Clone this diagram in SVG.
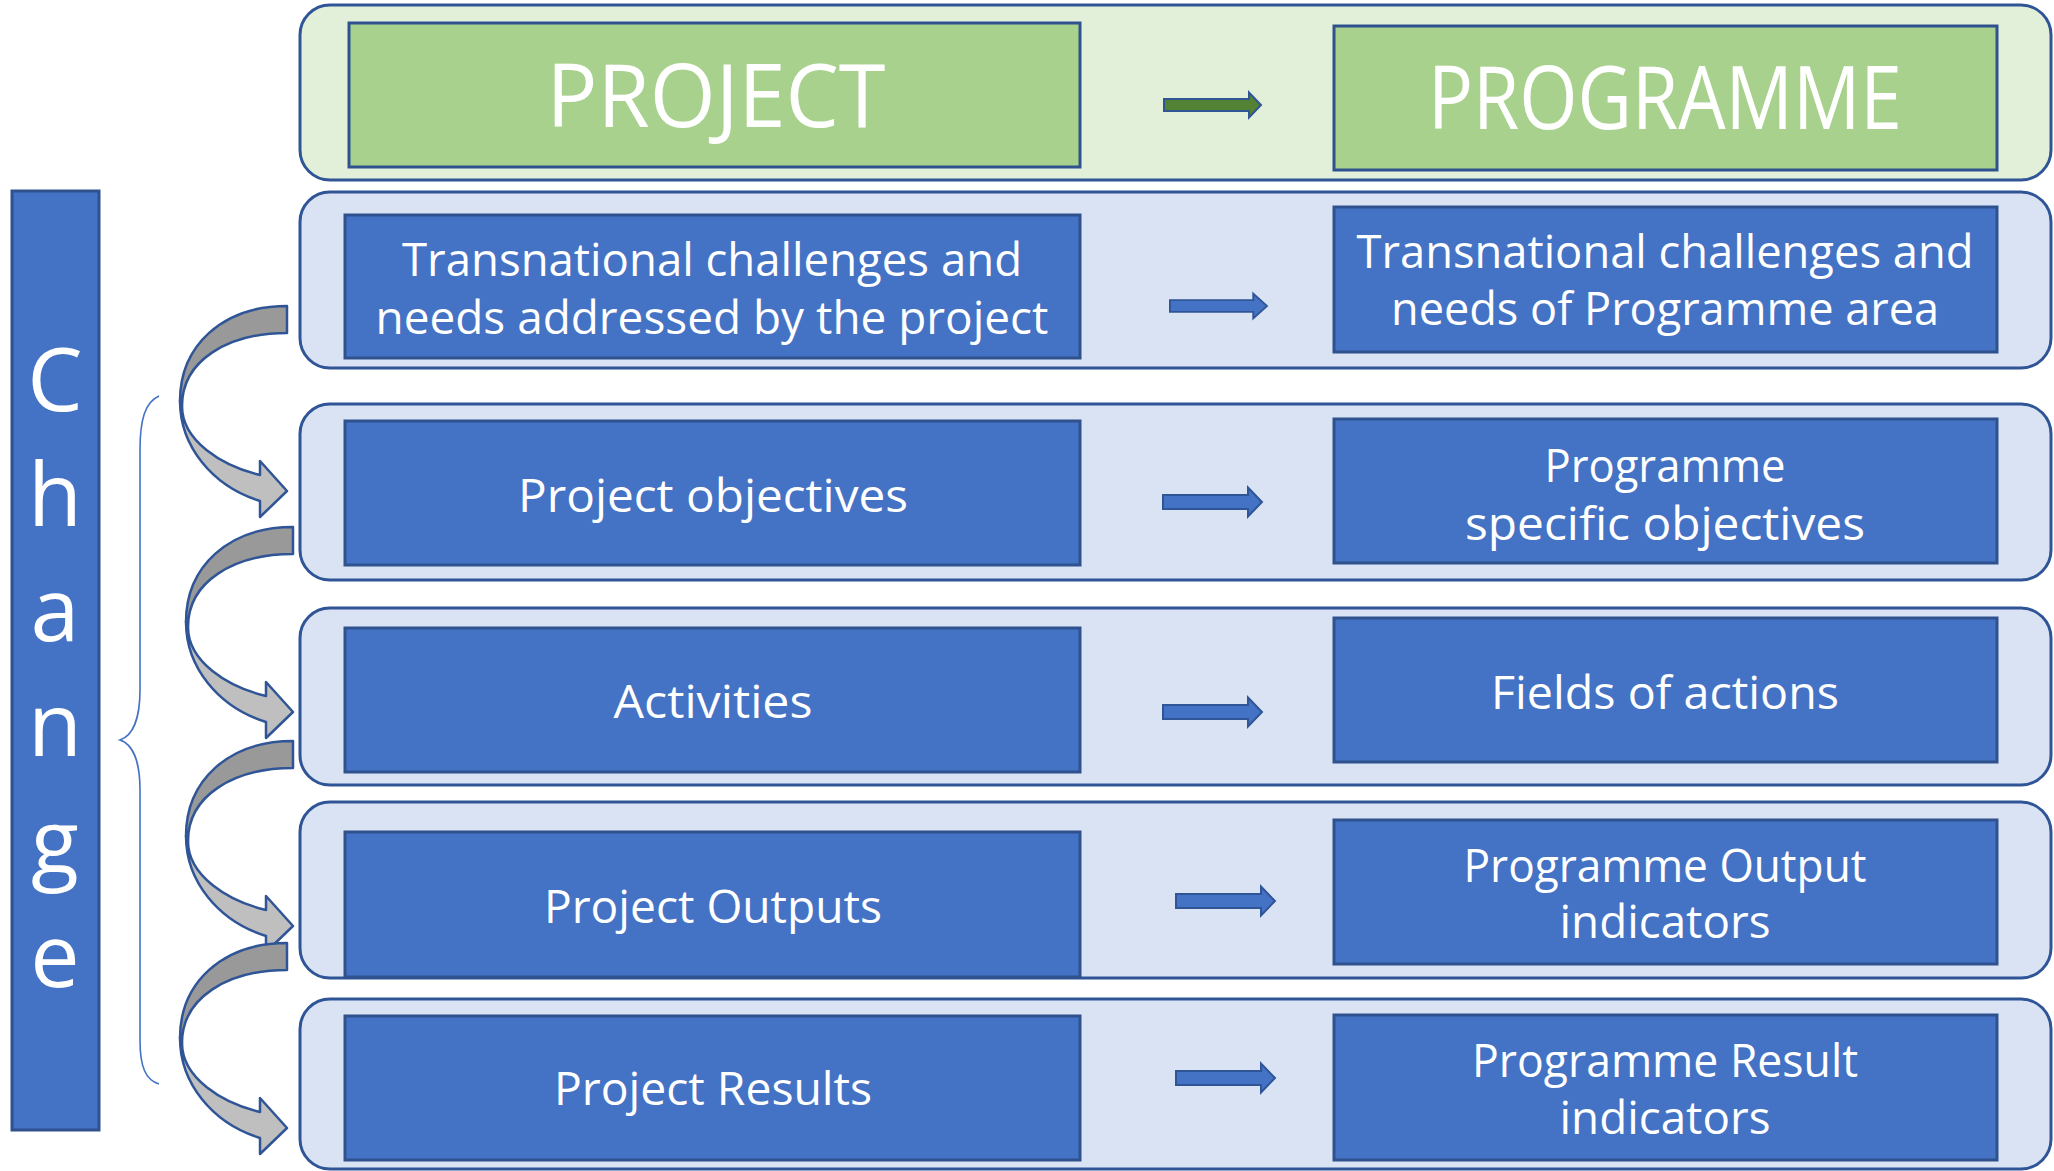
<svg xmlns="http://www.w3.org/2000/svg" xmlns:xlink="http://www.w3.org/1999/xlink" width="2054" height="1171" viewBox="0 0 2054 1171">
<style>
.cont{fill:#DAE3F3;stroke:#2F5597;stroke-width:3}
.contg{fill:#E2F0D9;stroke:#2F5597;stroke-width:3}
.box{fill:#4472C4;stroke:#2F528F;stroke-width:3}
.gbox{fill:#A9D18E;stroke:#2F528F;stroke-width:3}
.t{font-family:"Open Sans","Noto Sans",sans-serif;fill:#FFFFFF;font-size:46px;text-anchor:middle}
.big{font-size:88px}
.arr{fill:#4472C4;stroke:#2F5597;stroke-width:2}
.garr{fill:#548235;stroke:#2F5597;stroke-width:2}
.dk{fill:#999999;stroke:#2F5597;stroke-width:2.5;stroke-linejoin:round}
.lt{fill:#BFBFBF;stroke:#2F5597;stroke-width:2.5;stroke-linejoin:round}
.brace{fill:none;stroke:#4472C4;stroke-width:1.6}
</style>
<defs>
<path id="barrow" d="M0,-7 H85 V-14.5 L99,0 L85,14.5 V7 H0 Z"/>
<path id="garrow" d="M0,-6 H85 V-12.5 L97,0 L85,12.5 V6 H0 Z"/>
<g id="carrow">
<path class="dk" d="M0,0 C-65,0 -107,40 -107,95 L-105,100 C-105,55 -60,27 0,27 Z"/>
<path class="lt" d="M-107,95 C-107,140 -75,180 -27,195 L-27,211 L0,185 L-27,155 L-27,169 C-65,160 -105,135 -105,100 Z"/>
</g>
</defs>

<g id="containers">
<rect id="row0" class="contg" x="300" y="5" width="1751" height="175" rx="30"/>
<rect id="row1" class="cont" x="300" y="192" width="1751" height="176" rx="30"/>
<rect id="row2" class="cont" x="300" y="404" width="1751" height="176" rx="30"/>
<rect id="row3" class="cont" x="300" y="608" width="1751" height="177" rx="30"/>
<rect id="row4" class="cont" x="300" y="802" width="1751" height="176" rx="30"/>
<rect id="row5" class="cont" x="300" y="999" width="1751" height="170" rx="30"/>
</g>

<g id="change">
<rect class="box" x="12" y="191" width="87" height="939"/>
<text class="t big"><tspan x="55" y="411">C</tspan><tspan x="55" y="526">h</tspan><tspan x="55" y="641">a</tspan><tspan x="55" y="756">n</tspan><tspan x="55" y="873">g</tspan><tspan x="55" y="987">e</tspan></text>
</g>

<g id="brace">
<path class="brace" d="M159,396 C145,402 140,420 140,450 L140,690 C140,720 132,736 120,740 C132,744 140,760 140,790 L140,1040 C140,1068 146,1080 159,1084"/>
</g>

<g id="project">
<rect class="gbox" x="349" y="23" width="731" height="144"/>
<text class="t big" x="716" y="127" textLength="339" lengthAdjust="spacingAndGlyphs">PROJECT</text>
</g>
<g id="programme">
<rect class="gbox" x="1334" y="26" width="663" height="144"/>
<text class="t big" x="1665" y="129" textLength="474" lengthAdjust="spacingAndGlyphs">PROGRAMME</text>
</g>

<g id="challenges-project">
<rect class="box" x="345" y="215" width="735" height="143"/>
<text class="t" x="712" y="276" textLength="620" lengthAdjust="spacingAndGlyphs">Transnational challenges and</text>
<text class="t" x="712" y="334" textLength="673" lengthAdjust="spacingAndGlyphs">needs addressed by the project</text>
</g>
<g id="challenges-programme">
<rect class="box" x="1334" y="207" width="663" height="145"/>
<text class="t" x="1665" y="268" textLength="617" lengthAdjust="spacingAndGlyphs">Transnational challenges and</text>
<text class="t" x="1665" y="325" textLength="548" lengthAdjust="spacingAndGlyphs">needs of Programme area</text>
</g>

<g id="project-objectives">
<rect class="box" x="345" y="421" width="735" height="144"/>
<text class="t" x="713" y="512" textLength="390" lengthAdjust="spacingAndGlyphs">Project objectives</text>
</g>
<g id="programme-objectives">
<rect class="box" x="1334" y="419" width="663" height="144"/>
<text class="t" x="1665" y="482" textLength="241" lengthAdjust="spacingAndGlyphs">Programme</text>
<text class="t" x="1665" y="540" textLength="400" lengthAdjust="spacingAndGlyphs">specific objectives</text>
</g>

<g id="activities">
<rect class="box" x="345" y="628" width="735" height="144"/>
<text class="t" x="713" y="718" textLength="199" lengthAdjust="spacingAndGlyphs">Activities</text>
</g>
<g id="fields">
<rect class="box" x="1334" y="618" width="663" height="144"/>
<text class="t" x="1665" y="709" textLength="348" lengthAdjust="spacingAndGlyphs">Fields of actions</text>
</g>

<g id="project-outputs">
<rect class="box" x="345" y="832" width="735" height="145"/>
<text class="t" x="713" y="923" textLength="338" lengthAdjust="spacingAndGlyphs">Project Outputs</text>
</g>
<g id="programme-outputs">
<rect class="box" x="1334" y="820" width="663" height="144"/>
<text class="t" x="1665" y="882" textLength="403" lengthAdjust="spacingAndGlyphs">Programme Output</text>
<text class="t" x="1665" y="938" textLength="211" lengthAdjust="spacingAndGlyphs">indicators</text>
</g>

<g id="project-results">
<rect class="box" x="345" y="1016" width="735" height="144"/>
<text class="t" x="713" y="1105" textLength="318" lengthAdjust="spacingAndGlyphs">Project Results</text>
</g>
<g id="programme-results">
<rect class="box" x="1334" y="1015" width="663" height="145"/>
<text class="t" x="1665" y="1077" textLength="386" lengthAdjust="spacingAndGlyphs">Programme Result</text>
<text class="t" x="1665" y="1134" textLength="211" lengthAdjust="spacingAndGlyphs">indicators</text>
</g>

<g id="connectors">
<use href="#garrow" xlink:href="#garrow" class="garr" transform="translate(1164,105)"/>
<use href="#barrow" xlink:href="#barrow" class="arr" transform="translate(1170,306) scale(0.98,0.85)"/>
<use href="#barrow" xlink:href="#barrow" class="arr" transform="translate(1163,502)"/>
<use href="#barrow" xlink:href="#barrow" class="arr" transform="translate(1163,712)"/>
<use href="#barrow" xlink:href="#barrow" class="arr" transform="translate(1176,901)"/>
<use href="#barrow" xlink:href="#barrow" class="arr" transform="translate(1176,1078)"/>
<use href="#carrow" xlink:href="#carrow" transform="translate(287,306)"/>
<use href="#carrow" xlink:href="#carrow" transform="translate(293,527)"/>
<use href="#carrow" xlink:href="#carrow" transform="translate(293,741)"/>
<use href="#carrow" xlink:href="#carrow" transform="translate(287,943)"/>
</g>
</svg>
